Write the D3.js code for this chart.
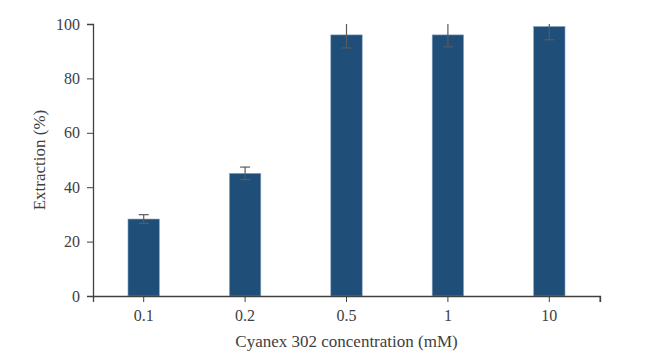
<!DOCTYPE html>
<html>
<head>
<meta charset="utf-8">
<script src="https://cdn.jsdelivr.net/npm/d3@7"></script>
<style>
  body { margin: 0; background: #fff; }
</style>
</head>
<body>
<div id="chart"></div>
<script>
// Data
const categories = ["0.1", "0.2", "0.5", "1", "10"];
const extraction = [28.3, 45.1, 96.0, 96.0, 99.1];
const errors = [1.6, 2.3, 4.8, 4.4, 4.9];
const yTicks = [0, 20, 40, 60, 80, 100];

const width = 663, height = 360;
const margin = { top: 24, right: 63, bottom: 64, left: 93 };

const svg = d3.select("#chart").append("svg")
    .attr("width", width)
    .attr("height", height)
    .style("font-family", "'Liberation Serif', 'Times New Roman', serif");

const x = d3.scaleBand()
    .domain(categories)
    .range([margin.left, width - margin.right])
    .paddingInner(0.69)
    .paddingOuter(0.345);

const y = d3.scaleLinear()
    .domain([0, 100])
    .range([height - margin.bottom, margin.top]);

// bars
svg.append("g")
    .selectAll("rect")
    .data(categories)
    .join("rect")
    .attr("x", d => x(d))
    .attr("y", (d, i) => y(extraction[i]))
    .attr("width", x.bandwidth())
    .attr("height", (d, i) => y(0) - y(extraction[i]))
    .attr("fill", "#1f4e79")
    .attr("stroke", "#8fa9c4")
    .attr("stroke-width", 0.6);

// error bars (clipped at axis max, like the original)
const errG = svg.append("g")
    .attr("stroke", "#5a5a5a")
    .attr("stroke-width", 1.2);

categories.forEach((c, i) => {
    const cx = x(c) + x.bandwidth() / 2;
    const hi = Math.min(100, extraction[i] + errors[i]);
    const lo = extraction[i] - errors[i];
    errG.append("line")
        .attr("x1", cx).attr("x2", cx)
        .attr("y1", y(hi)).attr("y2", y(lo));
    if (extraction[i] + errors[i] <= 100) {
        errG.append("line")
            .attr("x1", cx - 5).attr("x2", cx + 5)
            .attr("y1", y(hi)).attr("y2", y(hi));
    }
    errG.append("line")
        .attr("x1", cx - 5).attr("x2", cx + 5)
        .attr("y1", y(lo)).attr("y2", y(lo));
});

// y axis
const yAxis = svg.append("g")
    .attr("transform", `translate(${margin.left},0)`)
    .call(d3.axisLeft(y).tickValues(yTicks).tickSize(6).tickPadding(7));

// x axis
const xAxis = svg.append("g")
    .attr("transform", `translate(0,${y(0)})`)
    .call(d3.axisBottom(x).tickSize(6).tickPadding(8));

xAxis.append("line")
    .attr("x1", width - margin.right).attr("x2", width - margin.right)
    .attr("y1", 0).attr("y2", 6)
    .attr("stroke", "#404040");

[yAxis, xAxis].forEach(g => {
    g.select(".domain").attr("stroke", "#404040").attr("stroke-width", 1.3);
    g.selectAll(".tick line").attr("stroke", "#404040");
    g.selectAll("text")
        .attr("fill", "#404040")
        .style("font-size", "16px")
        .style("font-family", "'Liberation Serif', serif");
});

// axis titles
svg.append("text")
    .attr("transform", `translate(45,${(y(0) + y(100)) / 2}) rotate(-90)`)
    .attr("text-anchor", "middle")
    .attr("fill", "#404040")
    .style("font-size", "17px")
    .text("Extraction  (%)");

svg.append("text")
    .attr("x", (margin.left + width - margin.right) / 2)
    .attr("y", 347)
    .attr("text-anchor", "middle")
    .attr("fill", "#404040")
    .style("font-size", "17px")
    .text("Cyanex 302  concentration (mM)");
</script>
</body>
</html>
